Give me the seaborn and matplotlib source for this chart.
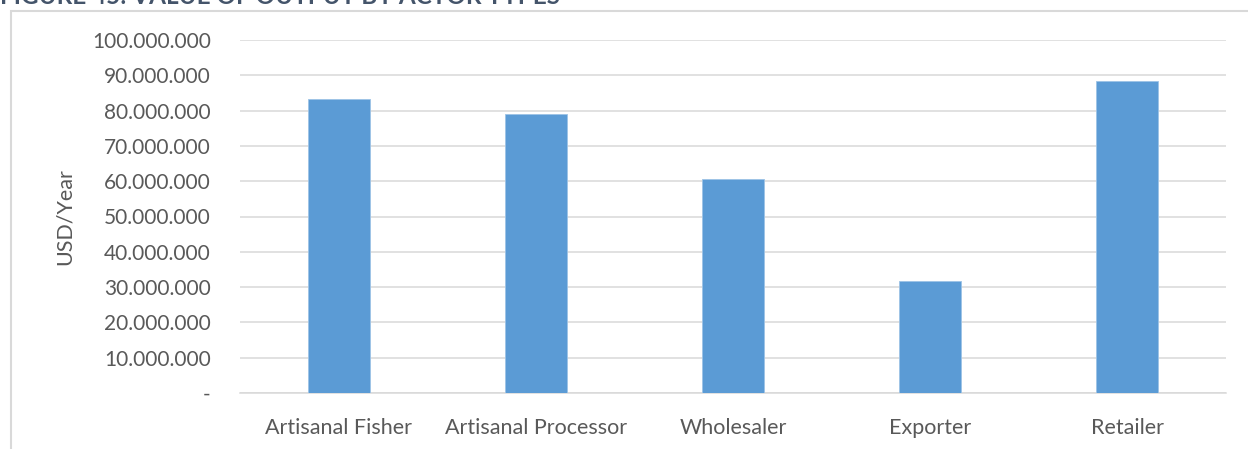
import matplotlib
matplotlib.use("Agg")
import matplotlib.pyplot as plt
from matplotlib.ticker import FuncFormatter, MultipleLocator
from matplotlib.patches import Rectangle
import seaborn as sns
import pandas as pd

# Value of output per actor type (USD per year)
actors = ["Artisanal Fisher", "Artisanal Processor", "Wholesaler", "Exporter", "Retailer"]
values = [83_400_000, 78_900_000, 60_500_000, 31_600_000, 88_400_000]
title = "FIGURE 45: VALUE OF OUTPUT BY ACTOR TYPES"
ylabel = "USD/Year"

df = pd.DataFrame({"actor": actors, "value": values})

sns.set_theme(style="white")
plt.rcParams["font.family"] = ["Lato", "DejaVu Sans"]

fig = plt.figure(figsize=(12.48, 4.49), dpi=100)
ax = fig.add_axes([240 / 1248, 1 - 393 / 449, (1226 - 240) / 1248, (393 - 40) / 449])

sns.barplot(data=df, x="actor", y="value", color="#5B9BD5", width=0.315,
            saturation=1, ax=ax, zorder=3, edgecolor="#9DC3E6", linewidth=0.6)

ax.set_ylim(0, 100_000_000)
ax.set_xlim(-0.5, len(actors) - 0.5)
ax.yaxis.set_major_locator(MultipleLocator(10_000_000))

def fmt(v, _):
    if v == 0:
        return "-"
    return f"{int(round(v)):,}".replace(",", ".")

ax.yaxis.set_major_formatter(FuncFormatter(fmt))
ax.grid(axis="y", color="#D9D9D9", linewidth=1.1, zorder=0)
ax.grid(axis="x", visible=False)
for s in ["top", "right", "left"]:
    ax.spines[s].set_visible(False)
ax.spines["bottom"].set_color("#D9D9D9")
ax.spines["bottom"].set_linewidth(1.1)

ax.tick_params(axis="y", length=0, pad=21, labelsize=15, labelcolor="#595959")
ax.tick_params(axis="x", length=0, pad=18, labelsize=15.5, labelcolor="#595959")
ax.set_xlabel("")
ax.set_ylabel(ylabel, fontsize=15.5, color="#595959")
ax.yaxis.set_label_coords(-0.168, 0.5)

# Chart area frame
fig.patches.append(Rectangle((11 / 1248, -0.1), 1.2, 1.1 - 11 / 449,
                             transform=fig.transFigure, fill=False,
                             edgecolor="#D9D9D9", linewidth=1.5, zorder=0))

# Figure caption above the chart
fig.text(0.0, 1 - 4 / 449, title, fontsize=17.5, fontweight="bold",
         color="#44546A", ha="left", va="baseline")

fig.savefig("out.png", dpi=100)
